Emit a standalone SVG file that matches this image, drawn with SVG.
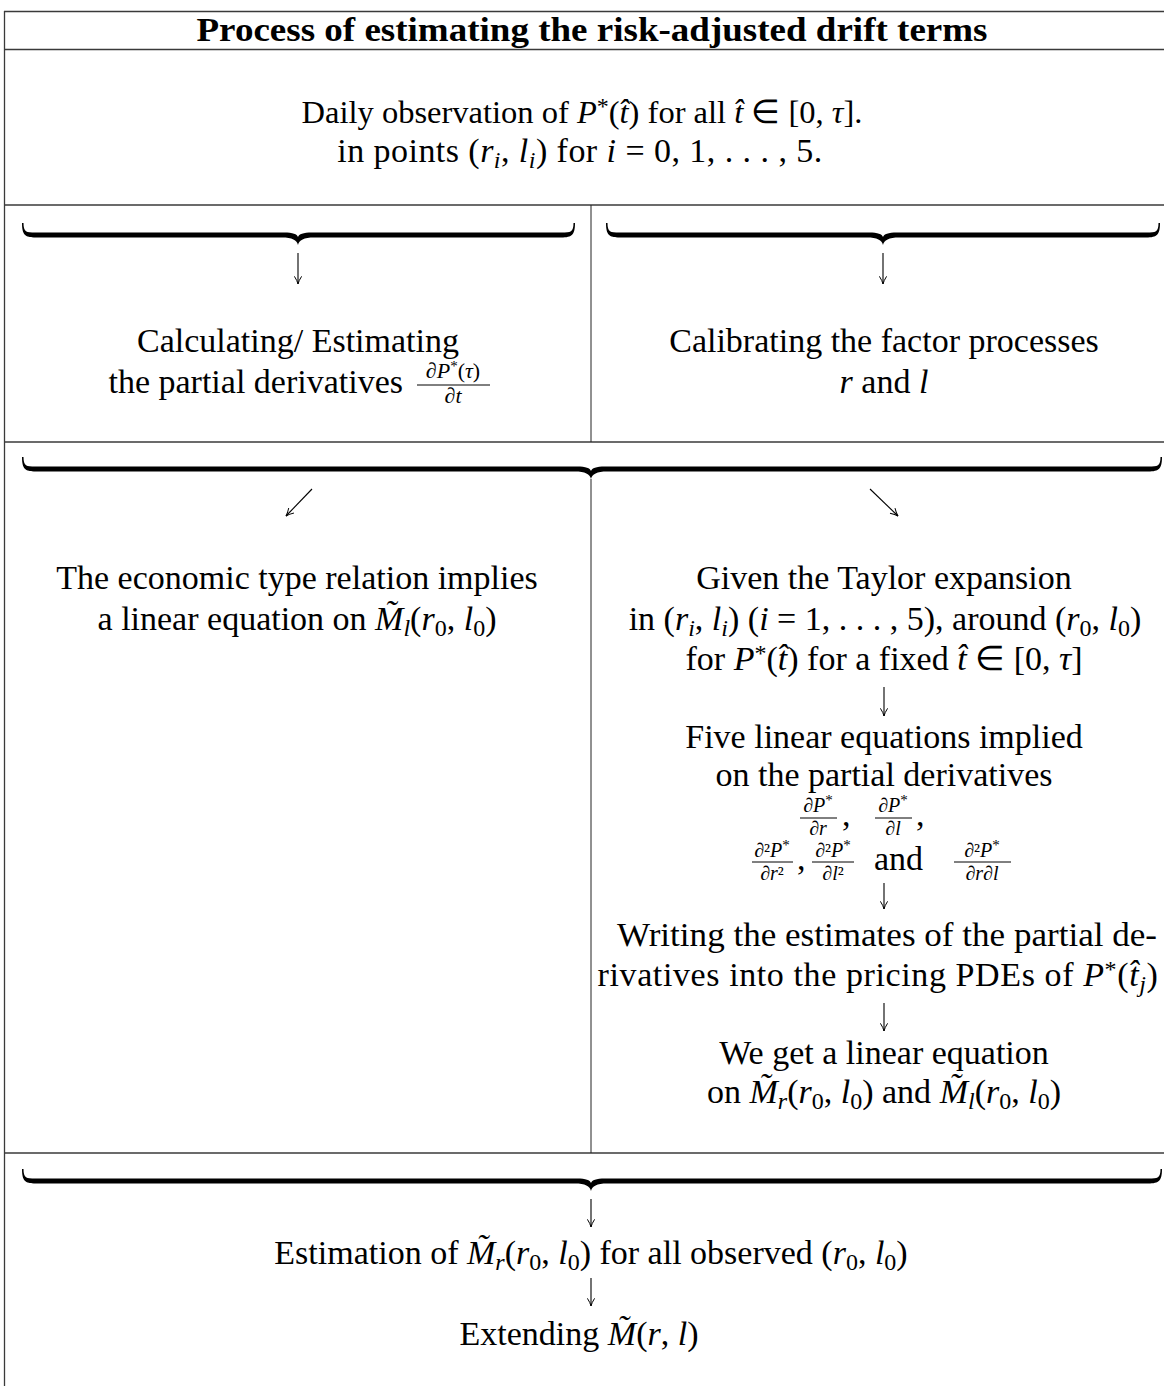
<svg xmlns="http://www.w3.org/2000/svg" width="1164" height="1386" viewBox="0 0 1164 1386">
<defs>
<style>
.t{font-family:"Liberation Serif","Times New Roman",serif;font-size:34px;fill:#000;text-anchor:middle}
.ts{font-family:"Liberation Serif","Times New Roman",serif;font-size:34px;fill:#000;text-anchor:start}
.h{font-weight:bold}
.i{font-style:italic}
.s{font-size:24px}
.f{font-family:"Liberation Serif","Times New Roman",serif;font-size:22px;fill:#000;text-anchor:middle}
.g{font-size:20px}
.fs{font-size:15px}
.rule{stroke:#3a3a3a;stroke-width:1.3;fill:none}
.vr{stroke:#222;stroke-width:1;fill:none}
.bar{stroke:#000;stroke-width:1;fill:none}
.brace{fill:#000;stroke:none}
.arr{stroke:#000;stroke-width:1.1;fill:none;marker-end:url(#ah)}
</style>
<marker id="ah" viewBox="0 0 10 10" refX="9.5" refY="5" markerWidth="9" markerHeight="9" markerUnits="userSpaceOnUse" orient="auto">
<path d="M1,1 Q6,4.2 9.5,5 Q6,5.8 1,9" fill="none" stroke="#000" stroke-width="1.1"/>
</marker>
</defs>
<rect width="1164" height="1386" fill="#fff"/>

<g id="table-rules">
<line class="rule" x1="4" y1="11.5" x2="1164" y2="11.5"/>
<line class="rule" x1="4" y1="49.5" x2="1164" y2="49.5"/>
<line class="rule" x1="4" y1="205" x2="1164" y2="205"/>
<line class="rule" x1="4" y1="442" x2="1164" y2="442"/>
<line class="rule" x1="4" y1="1153" x2="1164" y2="1153"/>
<line class="rule" x1="4.5" y1="11" x2="4.5" y2="1386"/>
<line class="vr" x1="591" y1="205" x2="591" y2="442"/>
<line class="vr" x1="591" y1="479" x2="591" y2="1153"/>
</g>

<g id="braces">
<path class="brace" d="M22,223 C22,236.5 26,237.5 38,237.5 L282,237.5 C292,237.5 297,240 298,245 C299,240 304,237.5 314,237.5 L559,237.5 C571,237.5 575,236.5 575,223 L573.5,223 C573.5,233 570,232.5 559,232.5 L312,232.5 C303,232.5 299,234 298,237 C297,234 293,232.5 284,232.5 L38,232.5 C27,232.5 23.5,233 23.5,223 Z"/>
<path class="brace" d="M606,223 C606,236.5 610,237.5 622,237.5 L867,237.5 C877,237.5 882,240 883,245 C884,240 889,237.5 899,237.5 L1144,237.5 C1156,237.5 1160,236.5 1160,223 L1158.5,223 C1158.5,233 1155,232.5 1144,232.5 L897,232.5 C888,232.5 884,234 883,237 C882,234 878,232.5 869,232.5 L622,232.5 C611,232.5 607.5,233 607.5,223 Z"/>
<path class="brace" d="M22,457 C22,470.5 26,471.5 38,471.5 L575,471.5 C585,471.5 590,474 591,479 C592,474 597,471.5 607,471.5 L1146,471.5 C1158,471.5 1162,470.5 1162,457 L1160.5,457 C1160.5,467 1157,466.5 1146,466.5 L605,466.5 C596,466.5 592,468 591,471 C590,468 586,466.5 577,466.5 L38,466.5 C27,466.5 23.5,467 23.5,457 Z"/>
<path class="brace" d="M22,1169 C22,1182.5 26,1183.5 38,1183.5 L575,1183.5 C585,1183.5 590,1186 591,1191 C592,1186 597,1183.5 607,1183.5 L1146,1183.5 C1158,1183.5 1162,1182.5 1162,1169 L1160.5,1169 C1160.5,1179 1157,1178.5 1146,1178.5 L605,1178.5 C596,1178.5 592,1180 591,1183 C590,1180 586,1178.5 577,1178.5 L38,1178.5 C27,1178.5 23.5,1179 23.5,1169 Z"/>
</g>

<g id="connectors">
<line class="arr" x1="298" y1="253" x2="298" y2="284"/>
<line class="arr" x1="883" y1="253" x2="883" y2="284"/>
<line class="arr" x1="312" y1="489" x2="286" y2="516"/>
<line class="arr" x1="870" y1="489" x2="898" y2="516"/>
<line class="arr" x1="884" y1="687" x2="884" y2="716"/>
<line class="arr" x1="884" y1="883" x2="884" y2="909"/>
<line class="arr" x1="884" y1="1003" x2="884" y2="1031"/>
<line class="arr" x1="591" y1="1199" x2="591" y2="1227"/>
<line class="arr" x1="591" y1="1278" x2="591" y2="1306"/>
</g>

<g id="title">
<text class="t h" x="592" y="41" textLength="791" lengthAdjust="spacingAndGlyphs">Process of estimating the risk-adjusted drift terms</text>
</g>

<g id="observation">
<text class="t" x="582" y="123" style="font-size:32.5px">Daily observation of <tspan class="i">P</tspan><tspan class="s" dy="-9">*</tspan><tspan dy="9">(</tspan><tspan class="i">t̂</tspan>) for all <tspan class="i">t̂</tspan> ∈ [0, <tspan class="i">τ</tspan>].</text>
<text class="t" x="580" y="162" style="letter-spacing:0.45px">in points (<tspan class="i">r</tspan><tspan class="s i" dy="6">i</tspan><tspan dy="-6">, </tspan><tspan class="i">l</tspan><tspan class="s i" dy="6">i</tspan><tspan dy="-6">) for </tspan><tspan class="i">i</tspan> = 0, 1, . . . , 5.</text>
</g>

<g id="partial-derivatives">
<text class="t" x="298" y="352">Calculating/ Estimating</text>
<text class="t" x="403" y="393" style="text-anchor:end">the partial derivatives</text>
<text class="f" x="453" y="378">∂<tspan class="i">P</tspan><tspan class="fs" dy="-7">*</tspan><tspan dy="7">(</tspan><tspan class="i">τ</tspan>)</text>
<line class="bar" x1="417" y1="385" x2="490" y2="385"/>
<text class="f" x="453" y="403">∂<tspan class="i">t</tspan></text>
</g>

<g id="calibrating">
<text class="t" x="884" y="352">Calibrating the factor processes</text>
<text class="t" x="884" y="393"><tspan class="i">r</tspan> and <tspan class="i">l</tspan></text>
</g>

<g id="economic-relation">
<text class="t" x="297" y="589">The economic type relation implies</text>
<text class="t" x="297" y="630">a linear equation on <tspan class="i">M̃</tspan><tspan class="s i" dy="6">l</tspan><tspan dy="-6">(</tspan><tspan class="i">r</tspan><tspan class="s" dy="6">0</tspan><tspan dy="-6">, </tspan><tspan class="i">l</tspan><tspan class="s" dy="6">0</tspan><tspan dy="-6">)</tspan></text>
</g>

<g id="taylor">
<text class="t" x="884" y="589">Given the Taylor expansion</text>
<text class="t" x="885" y="630">in (<tspan class="i">r</tspan><tspan class="s i" dy="6">i</tspan><tspan dy="-6">, </tspan><tspan class="i">l</tspan><tspan class="s i" dy="6">i</tspan><tspan dy="-6">) (</tspan><tspan class="i">i</tspan> = 1, . . . , 5), around (<tspan class="i">r</tspan><tspan class="s" dy="6">0</tspan><tspan dy="-6">, </tspan><tspan class="i">l</tspan><tspan class="s" dy="6">0</tspan><tspan dy="-6">)</tspan></text>
<text class="t" x="884" y="670">for <tspan class="i">P</tspan><tspan class="s" dy="-9">*</tspan><tspan dy="9">(</tspan><tspan class="i">t̂</tspan>) for a fixed <tspan class="i">t̂</tspan> ∈ [0, <tspan class="i">τ</tspan>]</text>
</g>

<g id="five-equations">
<text class="t" x="884" y="748">Five linear equations implied</text>
<text class="t" x="884" y="786">on the partial derivatives</text>
<text class="f g" x="818" y="812">∂<tspan class="i">P</tspan><tspan class="fs" dy="-7">*</tspan></text>
<line class="bar" x1="800" y1="818" x2="837" y2="818"/>
<text class="f g" x="818" y="835">∂<tspan class="i">r</tspan></text>
<text class="ts" x="842" y="826">,</text>
<text class="f g" x="893" y="812">∂<tspan class="i">P</tspan><tspan class="fs" dy="-7">*</tspan></text>
<line class="bar" x1="875" y1="818" x2="912" y2="818"/>
<text class="f g" x="893" y="835">∂<tspan class="i">l</tspan></text>
<text class="ts" x="916" y="826">,</text>
<text class="f g" x="772" y="857">∂²<tspan class="i">P</tspan><tspan class="fs" dy="-7">*</tspan></text>
<line class="bar" x1="752" y1="862" x2="793" y2="862"/>
<text class="f g" x="772" y="880">∂<tspan class="i">r</tspan>²</text>
<text class="ts" x="797" y="870">,</text>
<text class="f g" x="833" y="857">∂²<tspan class="i">P</tspan><tspan class="fs" dy="-7">*</tspan></text>
<line class="bar" x1="812" y1="862" x2="854" y2="862"/>
<text class="f g" x="833" y="880">∂<tspan class="i">l</tspan>²</text>
<text class="ts" x="874" y="870">and</text>
<text class="f g" x="982" y="857">∂²<tspan class="i">P</tspan><tspan class="fs" dy="-7">*</tspan></text>
<line class="bar" x1="954" y1="862" x2="1011" y2="862"/>
<text class="f g" x="982" y="880">∂<tspan class="i">r</tspan>∂<tspan class="i">l</tspan></text>
</g>

<g id="writing-estimates">
<text class="t" x="887" y="946" textLength="540" lengthAdjust="spacingAndGlyphs">Writing the estimates of the partial de-</text>
<text class="t" x="878" y="986" style="letter-spacing:0.6px">rivatives into the pricing PDEs of <tspan class="i">P</tspan><tspan class="s" dy="-9">*</tspan><tspan dy="9">(</tspan><tspan class="i">t̂</tspan><tspan class="s i" dy="6">j</tspan><tspan dy="-6">)</tspan></text>
</g>

<g id="linear-equation">
<text class="t" x="884" y="1064">We get a linear equation</text>
<text class="t" x="884" y="1103">on <tspan class="i">M̃</tspan><tspan class="s i" dy="6">r</tspan><tspan dy="-6">(</tspan><tspan class="i">r</tspan><tspan class="s" dy="6">0</tspan><tspan dy="-6">, </tspan><tspan class="i">l</tspan><tspan class="s" dy="6">0</tspan><tspan dy="-6">) and </tspan><tspan class="i">M̃</tspan><tspan class="s i" dy="6">l</tspan><tspan dy="-6">(</tspan><tspan class="i">r</tspan><tspan class="s" dy="6">0</tspan><tspan dy="-6">, </tspan><tspan class="i">l</tspan><tspan class="s" dy="6">0</tspan><tspan dy="-6">)</tspan></text>
</g>

<g id="estimation">
<text class="t" x="591" y="1264">Estimation of <tspan class="i">M̃</tspan><tspan class="s i" dy="6">r</tspan><tspan dy="-6">(</tspan><tspan class="i">r</tspan><tspan class="s" dy="6">0</tspan><tspan dy="-6">, </tspan><tspan class="i">l</tspan><tspan class="s" dy="6">0</tspan><tspan dy="-6">) for all observed (</tspan><tspan class="i">r</tspan><tspan class="s" dy="6">0</tspan><tspan dy="-6">, </tspan><tspan class="i">l</tspan><tspan class="s" dy="6">0</tspan><tspan dy="-6">)</tspan></text>
</g>

<g id="extending">
<text class="t" x="579" y="1345">Extending <tspan class="i">M̃</tspan>(<tspan class="i">r</tspan>, <tspan class="i">l</tspan>)</text>
</g>
</svg>
